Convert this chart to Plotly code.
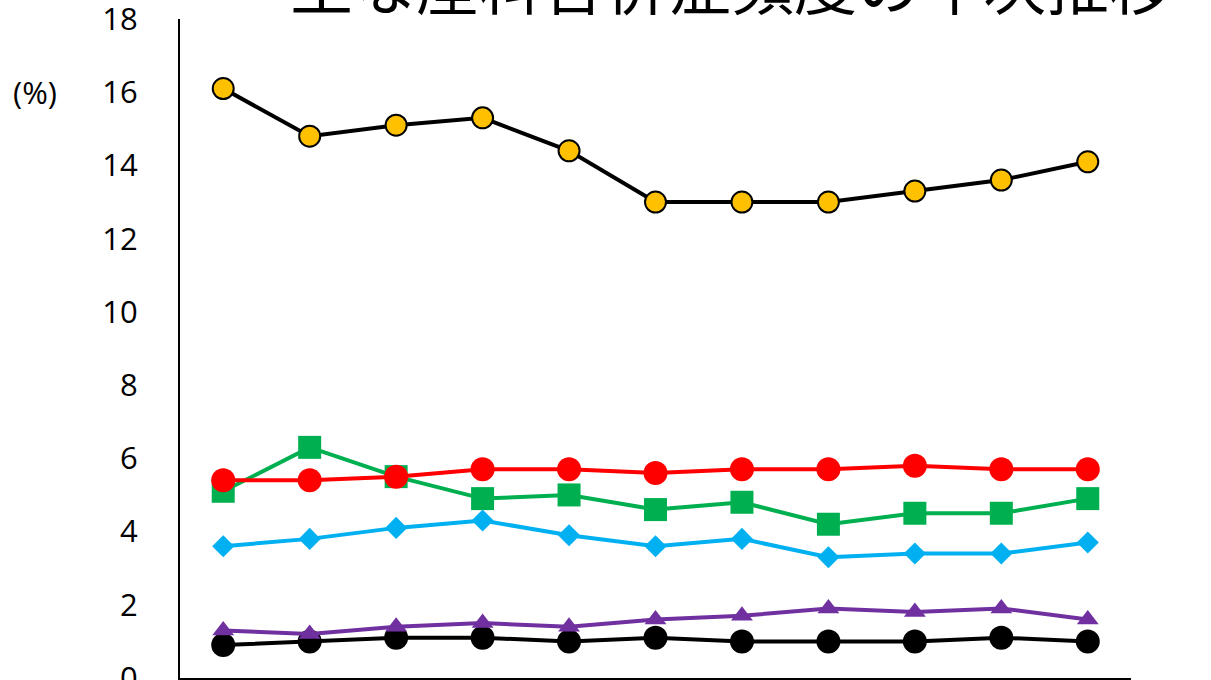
import plotly.graph_objects as go

categories = ["1", "2", "3", "4", "5", "6", "7", "8", "9", "10", "11"]
series_gold = [16.1, 14.8, 15.1, 15.3, 14.4, 13.0, 13.0, 13.0, 13.3, 13.6, 14.1]
series_red = [5.4, 5.4, 5.5, 5.7, 5.7, 5.6, 5.7, 5.7, 5.8, 5.7, 5.7]
series_green = [5.1, 6.3, 5.5, 4.9, 5.0, 4.6, 4.8, 4.2, 4.5, 4.5, 4.9]
series_blue = [3.6, 3.8, 4.1, 4.3, 3.9, 3.6, 3.8, 3.3, 3.4, 3.4, 3.7]
series_purple = [1.3, 1.2, 1.4, 1.5, 1.4, 1.6, 1.7, 1.9, 1.8, 1.9, 1.6]
series_black = [0.9, 1.0, 1.1, 1.1, 1.0, 1.1, 1.0, 1.0, 1.0, 1.1, 1.0]
y_ticks = [0, 2, 4, 6, 8, 10, 12, 14, 16, 18]

fig = go.Figure()

def add(vals, line_color, marker_color, symbol, size, outline=None):
    fig.add_trace(go.Scatter(
        x=categories, y=vals, mode="lines+markers",
        line=dict(color=line_color, width=4),
        marker=dict(color=marker_color, symbol=symbol, size=size,
                    line=dict(color=outline or marker_color, width=2 if outline else 0)),
        showlegend=False, cliponaxis=False,
    ))

add(series_black, "#000000", "#000000", "circle", 24)
add(series_purple, "#7030A0", "#7030A0", "triangle-up", 19)
add(series_blue, "#00B0F0", "#00B0F0", "diamond", 17)
add(series_green, "#00B050", "#00B050", "square", 23)
add(series_red, "#FF0000", "#FF0000", "circle", 24)
add(series_gold, "#000000", "#FFC000", "circle", 21, outline="#000000")

font = "Open Sans, Noto Sans, sans-serif"

fig.update_layout(
    width=1211, height=680,
    margin=dict(l=180, r=80, t=19, b=2),
    paper_bgcolor="white", plot_bgcolor="white",
    template="none",
    xaxis=dict(type="category", range=[-0.5, 10.5], showticklabels=False,
               showgrid=False, zeroline=False, showline=True, linecolor="black",
               linewidth=2, ticks="", automargin=False),
    yaxis=dict(range=[0, 18], tickvals=y_ticks, showgrid=False, zeroline=False,
               showline=True, linecolor="black", linewidth=2, ticks="",
               tickfont=dict(family=font, size=31, color="black"),
               ticklabelstandoff=34, ticklabeloverflow="allow", automargin=False),
    annotations=[
        dict(text="主な産科合併症頻度の年次推移", xref="paper", yref="paper",
             x=(731 - 180) / (1131 - 180), y=1, yanchor="bottom", xanchor="center",
             yshift=-10, showarrow=False,
             font=dict(family="Noto Sans CJK JP", size=63, color="black")),
        dict(text="(%)", xref="paper", yref="y", x=-145 / 951, y=16,
             xanchor="center", yanchor="middle", showarrow=False,
             font=dict(family=font, size=31, color="black")),
    ],
)

fig.write_html("out.html")
